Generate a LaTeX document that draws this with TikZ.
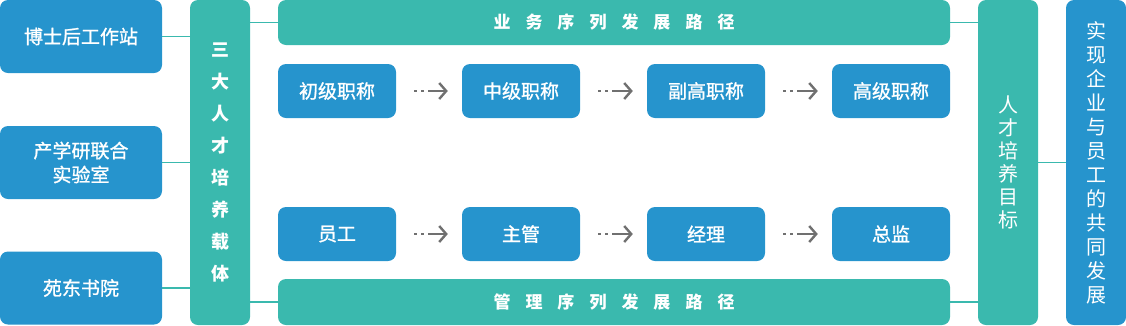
\documentclass[tikz,border=0pt]{standalone}
\usepackage{fontspec}
\newfontfamily\cjk{Noto Sans CJK SC}
\newfontfamily\cjkm[RawFeature={embolden=1.2}]{Noto Sans CJK SC}
\usetikzlibrary{arrows.meta}
\definecolor{myblue}{HTML}{2694CD}
\definecolor{myteal}{HTML}{3AB9AE}
\definecolor{arrgray}{HTML}{707070}
\newcommand\spc{\hspace{15pt}}
\tikzset{
  box/.style={rounded corners=8pt, inner sep=0pt, text=white, align=center},
  bluebox/.style={box, fill=myblue, font=\cjkm\fontsize{19}{24}\selectfont},
  tealbox/.style={box, fill=myteal},
  barbox/.style={tealbox, font=\cjk\bfseries\fontsize{17}{20}\selectfont, minimum width=672pt},
  link/.style={draw=myteal, line width=1.2pt},
  step arrow/.style={draw=arrgray, line width=2.4pt, shorten <=18pt, shorten >=14pt,
    dash pattern=on 2.6pt off 4.6pt on 2.6pt off 4pt on 60pt,
    -{Straight Barb[length=7pt, width=16pt, line width=2.4pt]}},
}
\begin{document}
\begin{tikzpicture}[x=1pt, y=-1pt]
\useasboundingbox (0,0) rectangle (1126,325);
% left boxes
\node[bluebox, minimum width=162pt, minimum height=73pt] (L1) at (81,36.5) {博士后工作站};
\node[bluebox, minimum width=162pt, minimum height=73pt] (L2) at (81,162.5) {产学研联合\\实验室};
\node[bluebox, minimum width=162pt, minimum height=73pt] (L3) at (81,288) {苑东书院};
% column 1
\node[tealbox, minimum width=60pt, minimum height=325pt, font=\cjk\bfseries\fontsize{18}{32}\selectfont] (C1) at (220,162.5) {三\\大\\人\\才\\培\\养\\载\\体};
% bars
\node[barbox, minimum height=45pt] (TB) at (614,22.5) {业\spc 务\spc 序\spc 列\spc 发\spc 展\spc 路\spc 径};
\node[barbox, minimum height=46pt] (BB) at (614,302) {管\spc 理\spc 序\spc 列\spc 发\spc 展\spc 路\spc 径};
% row 1
\node[bluebox, minimum width=118pt, minimum height=54pt] (A1) at (337,91) {初级职称};
\node[bluebox, minimum width=118pt, minimum height=54pt] (A2) at (521,91) {中级职称};
\node[bluebox, minimum width=118pt, minimum height=54pt] (A3) at (706,91) {副高职称};
\node[bluebox, minimum width=118pt, minimum height=54pt] (A4) at (891,91) {高级职称};
% row 2
\node[bluebox, minimum width=118pt, minimum height=54pt] (B1) at (337,234) {员工};
\node[bluebox, minimum width=118pt, minimum height=54pt] (B2) at (521,234) {主管};
\node[bluebox, minimum width=118pt, minimum height=54pt] (B3) at (706,234) {经理};
\node[bluebox, minimum width=118pt, minimum height=54pt] (B4) at (891,234) {总监};
% column 2 and 3
\node[tealbox, minimum width=60pt, minimum height=325pt, font=\cjk\fontsize{20}{23}\selectfont] (C2) at (1008,162.5) {人\\才\\培\\养\\目\\标};
\node[bluebox, minimum width=60pt, minimum height=325pt, font=\cjk\fontsize{20}{24}\selectfont] (C3) at (1096,162.5) {实\\现\\企\\业\\与\\员\\工\\的\\共\\同\\发\\展};
% links
\draw[link] (L1.east) -- (L1.east -| C1.west);
\draw[link] (L2.east) -- (L2.east -| C1.west);
\draw[link] (L3.east) -- (L3.east -| C1.west);
\draw[link] (TB.west) -- (TB.west -| C1.east);
\draw[link] (BB.west) -- (BB.west -| C1.east);
\draw[link] (TB.east) -- (TB.east -| C2.west);
\draw[link] (BB.east) -- (BB.east -| C2.west);
\draw[link] (C2.east) -- (C3.west);
% arrows
\draw[step arrow] (A1.east) -- (A2.west);
\draw[step arrow] (A2.east) -- (A3.west);
\draw[step arrow] (A3.east) -- (A4.west);
\draw[step arrow] (B1.east) -- (B2.west);
\draw[step arrow] (B2.east) -- (B3.west);
\draw[step arrow] (B3.east) -- (B4.west);
\end{tikzpicture}
\end{document}
